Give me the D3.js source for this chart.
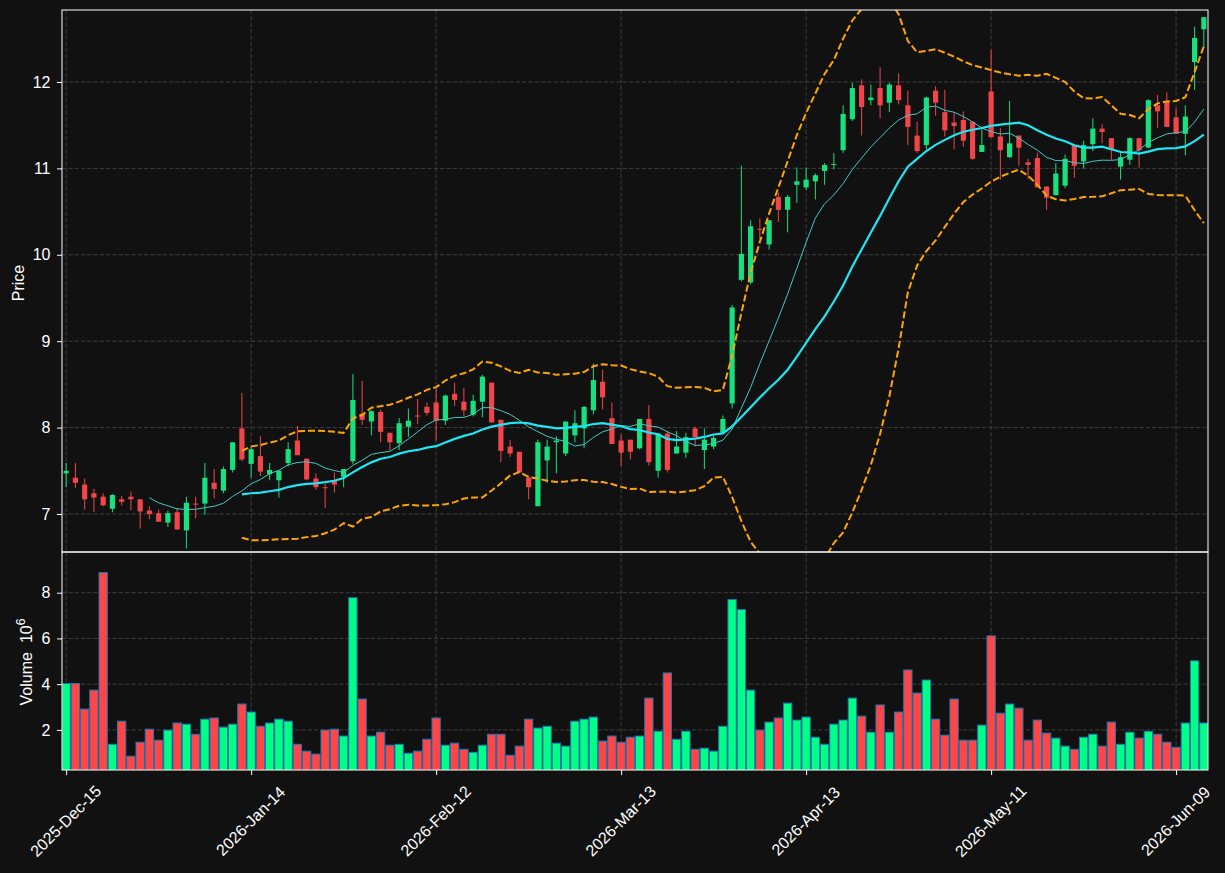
<!DOCTYPE html>
<html>
<head>
<meta charset="utf-8">
<script src="https://cdn.jsdelivr.net/npm/d3@7"></script>
<style>
  body { margin: 0; background: #111111; }
  text { font-family: "Liberation Sans", Arial, sans-serif; }
</style>
</head>
<body>
<div id="chart"></div>
<script>
// tick labels on the shared x axis (bar index -> date)
var tickIdx = [0, 20, 40, 60, 80, 100, 120];
var tickLabels = ["2025-Dec-15", "2026-Jan-14", "2026-Feb-12", "2026-Mar-13", "2026-Apr-13", "2026-May-11", "2026-Jun-09"];

// daily OHLC
var opens = [7.47,7.42,7.34,7.24,7.20,7.06,7.17,7.20,7.17,7.04,7.01,6.90,7.02,6.81,7.12,7.12,7.36,7.27,7.51,7.99,
  7.58,7.67,7.46,7.39,7.59,7.85,7.64,7.41,7.31,7.39,7.43,7.61,8.16,8.07,8.18,7.94,7.82,8.01,8.14,8.24,
  8.29,8.08,8.39,8.30,8.15,8.30,8.52,8.09,7.78,7.72,7.42,7.09,7.62,7.83,7.70,7.91,7.99,8.20,8.53,8.11,
  7.85,7.86,7.76,8.10,7.50,7.93,7.70,7.71,7.99,7.74,7.78,7.94,8.28,9.71,9.68,10.30,10.12,10.67,10.52,10.81,
  10.78,10.85,10.97,11.04,11.21,11.57,11.96,11.79,11.93,11.76,11.96,11.73,11.38,11.27,11.90,11.65,11.53,11.56,11.54,11.19,
  11.89,11.37,11.13,11.38,11.07,11.12,10.79,10.69,10.80,11.27,11.08,11.28,11.46,11.35,11.02,11.10,11.35,11.24,11.73,11.77,
  11.59,11.40,12.23,12.61];
var highs = [7.59,7.59,7.41,7.29,7.24,7.23,7.21,7.26,7.17,7.09,7.05,7.04,7.07,7.20,7.20,7.59,7.52,7.55,7.83,8.40,
  7.78,7.90,7.59,7.50,7.83,8.02,7.64,7.47,7.35,7.48,7.52,8.62,8.54,8.20,8.21,7.94,8.11,8.22,8.33,8.29,
  8.45,8.38,8.52,8.46,8.38,8.61,8.52,8.09,7.86,7.72,7.44,7.86,7.86,7.90,8.07,8.20,8.25,8.74,8.67,8.29,
  7.92,7.86,8.10,8.26,7.93,7.96,7.96,7.94,8.01,7.99,7.91,8.14,9.42,11.03,10.40,10.42,10.40,10.72,10.69,11.01,
  11.01,10.94,11.06,11.18,11.73,11.99,12.03,11.97,12.17,11.99,12.10,11.90,11.54,11.83,11.95,11.91,11.65,11.66,11.54,11.45,
  12.37,11.47,11.78,11.38,11.11,11.18,10.79,11.06,11.16,11.27,11.32,11.58,11.51,11.35,11.20,11.36,11.35,11.80,11.85,11.88,
  11.70,11.73,12.64,12.75];
var lows = [7.31,7.30,7.05,7.02,7.09,7.02,7.10,7.04,6.83,6.94,6.91,6.85,6.82,6.60,6.95,6.99,7.18,7.24,7.48,7.61,
  7.42,7.44,7.39,7.19,7.55,7.68,7.39,7.28,7.07,7.25,7.31,7.58,8.03,7.91,7.83,7.74,7.74,7.89,8.04,8.14,
  7.85,8.03,8.25,8.13,8.13,8.12,8.06,7.60,7.66,7.48,7.17,7.09,7.36,7.47,7.67,7.83,7.76,8.15,8.21,7.81,
  7.56,7.63,7.75,7.56,7.42,7.48,7.70,7.65,7.78,7.52,7.75,7.94,8.22,9.69,9.66,10.18,10.06,10.38,10.26,10.60,
  10.75,10.64,10.81,10.99,11.18,11.55,11.38,11.73,11.58,11.65,11.74,11.27,11.18,11.22,11.61,11.37,11.22,11.25,11.10,11.19,
  11.36,10.87,11.12,11.03,10.88,10.78,10.52,10.69,10.77,10.89,11.00,11.20,11.29,11.10,10.87,11.04,11.01,11.24,11.47,11.48,
  11.40,11.15,11.91,12.40];
var closes = [7.50,7.36,7.17,7.19,7.10,7.22,7.14,7.17,7.03,7.00,6.91,7.01,6.82,7.13,7.11,7.42,7.29,7.52,7.83,7.63,
  7.75,7.49,7.51,7.50,7.75,7.68,7.40,7.31,7.30,7.34,7.52,8.32,8.09,8.19,7.95,7.83,8.05,8.08,8.13,8.17,
  8.08,8.37,8.32,8.20,8.31,8.59,8.06,7.73,7.70,7.48,7.31,7.83,7.78,7.85,8.07,8.05,8.24,8.55,8.35,7.81,
  7.71,7.72,8.10,7.60,7.93,7.51,7.78,7.89,7.89,7.86,7.88,8.10,9.39,10.01,10.33,10.29,10.40,10.52,10.67,10.85,
  10.87,10.92,11.04,11.05,11.63,11.93,11.71,11.82,11.73,11.97,11.79,11.48,11.20,11.82,11.76,11.44,11.49,11.32,11.11,11.27,
  11.36,11.21,11.29,11.24,11.04,10.78,10.66,10.94,11.11,11.03,11.27,11.46,11.42,11.22,11.13,11.35,11.21,11.79,11.66,11.48,
  11.40,11.60,12.51,12.75];
// volume in millions
var volume = [4.03,4.03,2.91,3.74,8.88,1.37,2.38,0.85,1.46,2.03,1.55,1.99,2.30,2.25,1.81,2.47,2.52,2.12,2.25,3.13,
  2.78,2.16,2.30,2.47,2.38,1.37,1.07,0.94,1.99,2.03,1.73,7.78,3.35,1.73,1.90,1.33,1.37,0.98,1.07,1.59,
  2.52,1.33,1.42,1.15,1.02,1.33,1.81,1.81,0.89,1.29,2.47,2.08,2.16,1.42,1.29,2.38,2.47,2.56,1.51,1.73,
  1.46,1.68,1.73,3.39,1.94,4.49,1.59,1.94,1.15,1.20,1.07,2.16,7.70,7.26,3.74,1.99,2.34,2.52,3.17,2.43,
  2.56,1.68,1.37,2.25,2.43,3.39,2.60,1.90,3.09,1.90,2.78,4.62,3.61,4.18,2.47,1.77,3.35,1.55,1.55,2.21,
  6.11,2.73,3.13,2.95,1.55,2.43,1.86,1.64,1.29,1.15,1.68,1.81,1.29,2.34,1.37,1.90,1.64,1.94,1.81,1.46,
  1.24,2.30,5.02,2.30];

var priceTicks = [7, 8, 9, 10, 11, 12];
var volTicks = [2, 4, 6, 8];

var W = 1225, H = 873;
var pLeft = 62, pRight = 1208, pTop = 10, pMid = 552, pBottom = 770;

var upCandle = "#17e07f", downCandle = "#f0464a";
var upVol = "#00ff85", downVol = "#ff4545";
var gridColor = "#3d3d3d";
var fontSize = "16px";

var svg = d3.select("#chart").append("svg")
    .attr("width", W)
    .attr("height", H)
    .style("background", "#111111");

var n = closes.length;
var x = d3.scaleLinear().domain([-0.45, n - 0.55]).range([pLeft, pRight]);
var y = d3.scaleLinear().domain([6.56, 12.833]).range([pMid, pTop]);
var yv = d3.scaleLinear().domain([0.246, 9.78]).range([pBottom, pMid]);
var step = x(1) - x(0);

//clip paths for both panels
var defs = svg.append("defs");
defs.append("clipPath").attr("id", "clipMain")
  .append("rect").attr("x", pLeft).attr("y", pTop).attr("width", pRight - pLeft).attr("height", pMid - pTop);
defs.append("clipPath").attr("id", "clipVol")
  .append("rect").attr("x", pLeft).attr("y", pMid).attr("width", pRight - pLeft).attr("height", pBottom - pMid);

//grid
var grid = svg.append("g").attr("stroke", gridColor).attr("stroke-dasharray", "4.4,1.9").attr("stroke-width", 1);
grid.selectAll(".gy").data(priceTicks).join("line").attr("class", "gy")
  .attr("x1", pLeft).attr("x2", pRight).attr("y1", d => y(d)).attr("y2", d => y(d));
grid.selectAll(".gv").data(volTicks).join("line").attr("class", "gv")
  .attr("x1", pLeft).attr("x2", pRight).attr("y1", d => yv(d)).attr("y2", d => yv(d));
grid.selectAll(".gx").data(tickIdx).join("line").attr("class", "gx")
  .attr("x1", d => x(d)).attr("x2", d => x(d)).attr("y1", pTop).attr("y2", pBottom);

//moving averages and bollinger bands from the closes
function sma(arr, p) {
  return arr.map((d, i) => i < p - 1 ? null : d3.mean(arr.slice(i - p + 1, i + 1)));
}
function sd(arr, p) {
  return arr.map((d, i) => i < p - 1 ? null : d3.deviation(arr.slice(i - p + 1, i + 1)));
}
var ma10 = sma(closes, 10);
var ma20 = sma(closes, 20);
var sd20 = sd(closes, 20);
var bbUp = ma20.map((m, i) => m == null ? null : m + 2 * sd20[i]);
var bbLo = ma20.map((m, i) => m == null ? null : m - 2 * sd20[i]);

var line = d3.line().defined(d => d != null).x((d, i) => x(i)).y(d => y(d));

var main = svg.append("g").attr("clip-path", "url(#clipMain)");

//candles
var cg = main.append("g");
cg.selectAll(".wick").data(closes).join("line").attr("class", "wick")
  .attr("x1", (d, i) => x(i)).attr("x2", (d, i) => x(i))
  .attr("y1", (d, i) => y(highs[i])).attr("y2", (d, i) => y(lows[i]))
  .attr("stroke", (d, i) => d >= opens[i] ? upCandle : downCandle)
  .attr("stroke-width", 1);
cg.selectAll(".body").data(closes).join("rect").attr("class", "body")
  .attr("x", (d, i) => x(i) - step * 0.28)
  .attr("width", step * 0.56)
  .attr("y", (d, i) => y(Math.max(d, opens[i])))
  .attr("height", (d, i) => Math.max(1, Math.abs(y(d) - y(opens[i]))))
  .attr("fill", (d, i) => d >= opens[i] ? upCandle : downCandle);

//lines
main.append("path").datum(bbUp).attr("d", line).attr("fill", "none")
  .attr("stroke", "#ffa500").attr("stroke-width", 2).attr("stroke-dasharray", "7,3");
main.append("path").datum(bbLo).attr("d", line).attr("fill", "none")
  .attr("stroke", "#ffa500").attr("stroke-width", 2).attr("stroke-dasharray", "7,3");
main.append("path").datum(ma10).attr("d", line).attr("fill", "none")
  .attr("stroke", "#46c8c2").attr("stroke-width", 1);
main.append("path").datum(ma20).attr("d", line).attr("fill", "none")
  .attr("stroke", "#1fe6f5").attr("stroke-width", 2.2);

//volume bars
svg.append("g").attr("clip-path", "url(#clipVol)")
  .selectAll("rect").data(volume).join("rect")
  .attr("x", (d, i) => x(i) - step * 0.45)
  .attr("width", step * 0.9)
  .attr("y", d => yv(d))
  .attr("height", d => yv(0) - yv(d))
  .attr("fill", (d, i) => closes[i] >= opens[i] ? upVol : downVol)
  .attr("stroke", "#1f77b4")
  .attr("stroke-width", 1);

//axes
function styleAxis(g) {
  g.select(".domain").remove();
  g.selectAll(".tick line").attr("stroke", "#ffffff");
  g.selectAll(".tick text").attr("fill", "#ffffff").style("font-size", fontSize)
    .style("font-family", "Liberation Sans, Arial, sans-serif");
}
svg.append("g").attr("transform", "translate(" + pLeft + ",0)")
  .call(d3.axisLeft(y).tickValues(priceTicks).tickSize(5).tickPadding(6.5).tickFormat(d3.format("d")))
  .call(styleAxis);
svg.append("g").attr("transform", "translate(" + pLeft + ",0)")
  .call(d3.axisLeft(yv).tickValues(volTicks).tickSize(5).tickPadding(6.5).tickFormat(d3.format("d")))
  .call(styleAxis);
var xa = svg.append("g").attr("transform", "translate(0," + pBottom + ")")
  .call(d3.axisBottom(x).tickValues(tickIdx).tickSize(5).tickFormat((d, i) => tickLabels[i]))
  .call(styleAxis);
xa.selectAll(".tick text")
  .attr("y", 0).attr("dy", "0.35em")
  .attr("text-anchor", "middle")
  .attr("transform", "translate(-1,51) rotate(-45)");

//frames
svg.append("rect").attr("x", pLeft).attr("y", pTop).attr("width", pRight - pLeft).attr("height", pMid - pTop)
  .attr("fill", "none").attr("stroke", "#ffffff").attr("stroke-width", 1);
svg.append("rect").attr("x", pLeft).attr("y", pMid).attr("width", pRight - pLeft).attr("height", pBottom - pMid)
  .attr("fill", "none").attr("stroke", "#ffffff").attr("stroke-width", 1);

//axis labels
svg.append("text")
  .attr("transform", "translate(24," + ((pTop + pMid) / 2 + 2) + ") rotate(-90)")
  .attr("text-anchor", "middle").attr("fill", "#ffffff").style("font-size", fontSize)
  .text("Price");
var vl = svg.append("text")
  .attr("transform", "translate(32,662) rotate(-90)")
  .attr("text-anchor", "middle").attr("fill", "#ffffff").style("font-size", fontSize);
vl.append("tspan").text("Volume");
vl.append("tspan").attr("dx", 9).text("10");
vl.append("tspan").attr("dy", "-0.55em").style("font-size", "12px").text("6");
</script>
</body>
</html>
